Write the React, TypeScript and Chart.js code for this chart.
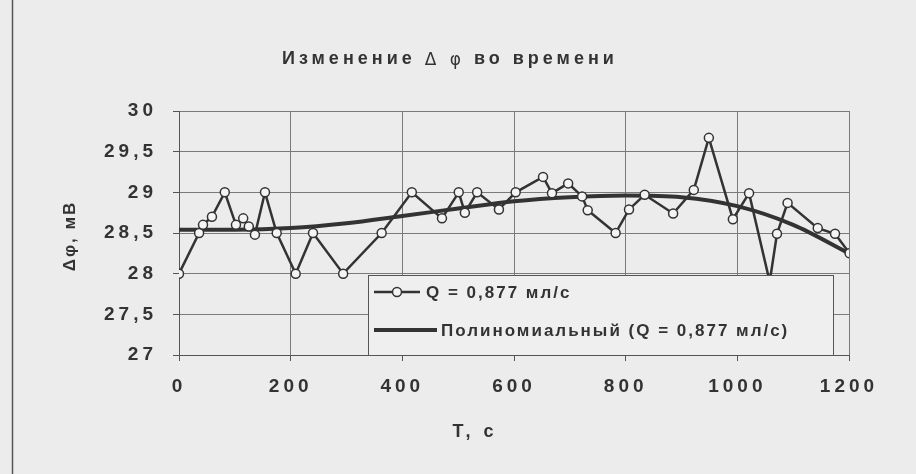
import React, { useEffect, useRef } from "react";
import { Chart, registerables } from "chart.js";

Chart.register(...registerables);

// measured series: time (s) and Δφ (mV)
const timeS = [0, 36, 43, 59, 82, 102, 115, 125, 136, 154, 175, 209, 240, 294, 363, 417, 471, 501, 512, 534, 573, 603, 652, 668, 697, 722, 732, 782, 806, 834, 885, 922, 949, 992, 1021, 1058, 1071, 1090, 1144, 1175, 1201];
const dPhi = [28.0, 28.5, 28.6, 28.7, 29.0, 28.6, 28.68, 28.58, 28.48, 29.0, 28.5, 28.0, 28.5, 28.0, 28.5, 29.0, 28.68, 29.0, 28.75, 29.0, 28.79, 29.0, 29.19, 28.99, 29.11, 28.95, 28.78, 28.5, 28.79, 28.97, 28.74, 29.03, 29.67, 28.67, 28.99, 27.9, 28.49, 28.87, 28.56, 28.49, 28.25];

// polynomial trend
const trendT = [0, 100, 200, 300, 400, 500, 600, 700, 800, 900, 1000, 1100, 1200];
const trendV = [28.54, 28.54, 28.56, 28.62, 28.71, 28.8, 28.89, 28.94, 28.96, 28.94, 28.83, 28.6, 28.25];

const titleParts = ["Изменение ", "Δ φ", " во времени"];
const yTitle = "Δφ, мВ";
const xTitle = "Т, с";
const legendLabels = ["Q = 0,877 мл/с", "Полиномиальный (Q = 0,877 мл/с)"];

const INK = "#333333";
const FONT = "'Liberation Sans', Arial, sans-serif";

function spaced(ctx: CanvasRenderingContext2D, sp: string) {
  (ctx as any).letterSpacing = sp;
}

const deco = {
  id: "deco",
  beforeDraw(chart: any) {
    const ctx = chart.ctx as CanvasRenderingContext2D;
    ctx.save();
    ctx.fillStyle = "#ececec";
    ctx.fillRect(0, 0, chart.width, chart.height);
    ctx.strokeStyle = "#555";
    ctx.lineWidth = 1.5;
    ctx.beginPath();
    ctx.moveTo(12.5, 0);
    ctx.lineTo(12.5, chart.height);
    ctx.stroke();
    ctx.restore();
    spaced(ctx, "4px");
  },
  afterDatasetsDraw(chart: any) {
    const ctx = chart.ctx as CanvasRenderingContext2D;
    ctx.save();
    // legend box, drawn over the data as in the reference
    const bx = 368, by = 275, bw = 465, bh = 80;
    ctx.fillStyle = "#efefef";
    ctx.fillRect(bx, by, bw, bh);
    ctx.strokeStyle = "#555";
    ctx.lineWidth = 1;
    ctx.strokeRect(bx + 0.5, by + 0.5, bw, bh);
    ctx.strokeStyle = INK;
    ctx.lineWidth = 2.5;
    ctx.beginPath();
    ctx.moveTo(374, 292);
    ctx.lineTo(420, 292);
    ctx.stroke();
    ctx.beginPath();
    ctx.arc(397, 292, 4.5, 0, Math.PI * 2);
    ctx.fillStyle = "#f4f4f4";
    ctx.fill();
    ctx.lineWidth = 1.5;
    ctx.stroke();
    ctx.lineWidth = 4;
    ctx.beginPath();
    ctx.moveTo(374, 330);
    ctx.lineTo(437, 330);
    ctx.stroke();
    ctx.fillStyle = INK;
    ctx.textAlign = "left";
    ctx.textBaseline = "middle";
    ctx.font = `bold 17px ${FONT}`;
    spaced(ctx, "2px");
    ctx.fillText(legendLabels[0], 426, 293);
    ctx.fillText(legendLabels[1], 441, 331);
    ctx.restore();
  },
  afterDraw(chart: any) {
    const ctx = chart.ctx as CanvasRenderingContext2D;
    ctx.save();
    ctx.fillStyle = INK;
    ctx.textBaseline = "middle";
    // title
    const fonts = [`bold 18px ${FONT}`, `17px 'DejaVu Sans', ${FONT}`, `bold 18px ${FONT}`];
    spaced(ctx, "4px");
    const widths = titleParts.map((t, i) => {
      ctx.font = fonts[i];
      return ctx.measureText(t).width;
    });
    const total = widths.reduce((a, b) => a + b, 0);
    let x = 450 - total / 2;
    ctx.textAlign = "left";
    titleParts.forEach((t, i) => {
      ctx.font = fonts[i];
      ctx.fillText(t, x, i === 1 ? 61 : 59);
      x += widths[i];
    });
    // x title
    ctx.textAlign = "center";
    ctx.font = `bold 18px ${FONT}`;
    ctx.fillText(xTitle, 475, 432);
    // y title
    ctx.save();
    ctx.translate(70, 236);
    ctx.rotate(-Math.PI / 2);
    ctx.font = `bold 17px ${FONT}`;
    spaced(ctx, "2px");
    ctx.fillText(yTitle, 0, 0);
    ctx.restore();
    ctx.restore();
  },
};

export default function App() {
  const ref = useRef<HTMLCanvasElement>(null);
  useEffect(() => {
    if (!ref.current) return;
    const chart = new Chart(ref.current, {
      type: "scatter",
      data: {
        datasets: [
          {
            label: legendLabels[0],
            data: timeS.map((t, i) => ({ x: t, y: dPhi[i] })),
            showLine: true,
            borderColor: INK,
            borderWidth: 2.5,
            pointRadius: 4.5,
            pointBackgroundColor: "#f4f4f4",
            pointBorderColor: INK,
            pointBorderWidth: 1.5,
            tension: 0,
          },
          {
            label: legendLabels[1],
            data: trendT.map((t, i) => ({ x: t, y: trendV[i] })),
            showLine: true,
            borderColor: INK,
            borderWidth: 4,
            pointRadius: 0,
            tension: 0.4,
            cubicInterpolationMode: "monotone",
          } as any,
        ],
      },
      options: {
        animation: false,
        responsive: false,
        layout: { padding: { top: 111, right: 67, left: 0, bottom: 0 } },
        plugins: { legend: { display: false }, title: { display: false }, tooltip: { enabled: false } },
        scales: {
          x: {
            type: "linear",
            min: 0,
            max: 1200,
            ticks: {
              stepSize: 200,
              color: INK,
              font: { family: FONT, size: 19, weight: "bold" },
              padding: 14,
              maxRotation: 0,
              callback: (v: any) => String(v),
            },
            grid: { color: "#7a7a7a", lineWidth: 1, tickLength: 6, tickColor: "#555" },
            border: { color: "#555", width: 1 },
            afterFit: (s: any) => { s.height = 119; },
          },
          y: {
            min: 27,
            max: 30,
            ticks: {
              stepSize: 0.5,
              color: INK,
              font: { family: FONT, size: 19, weight: "bold" },
              padding: 16,
              callback: (v: any) => String(v).replace(".", ","),
            },
            grid: { color: "#7a7a7a", lineWidth: 1, tickLength: 6, tickColor: "#555" },
            border: { color: "#555", width: 1 },
            afterFit: (s: any) => { s.width = 179; },
          },
        },
      } as any,
      plugins: [deco],
    });
    return () => chart.destroy();
  }, []);
  return (
    <div style={{ position: "fixed", left: 0, top: 0, width: 916, height: 474 }}>
      <canvas ref={ref} width={916} height={474} style={{ display: "block" }} />
    </div>
  );
}
